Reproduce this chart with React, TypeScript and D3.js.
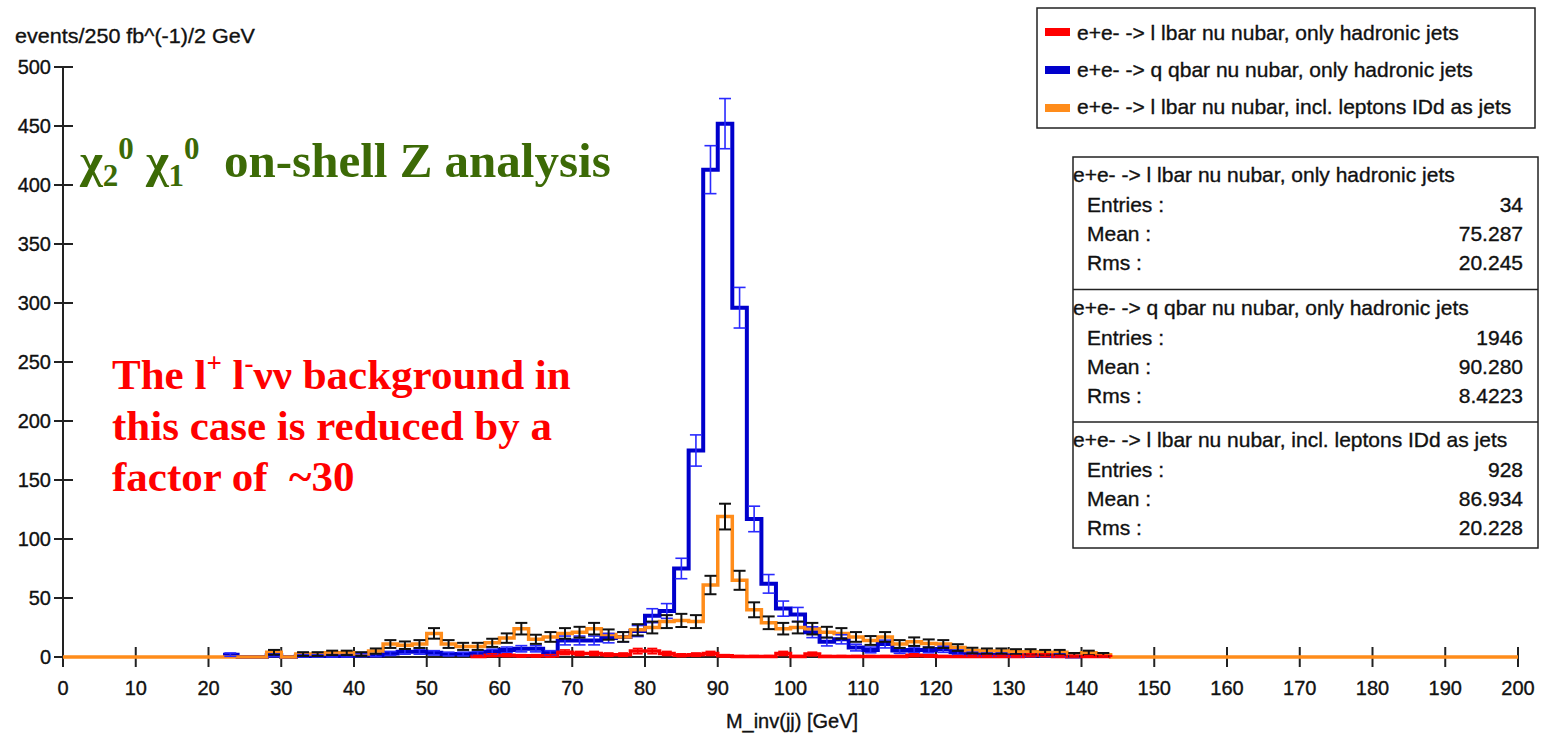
import * as d3 from "d3";
import React from "react";

// bin width 2 GeV, counts indexed from the given start edge
const BIN = 2;

const orangeStart = 28;
const orangeCounts = [
  4, 0, 2.5, 2.5, 3.5, 3.5, 2.5, 5, 11, 10, 11, 20, 11, 9, 9, 12, 16, 24, 15, 17,
  20, 21, 24, 19, 17, 23, 25, 30, 31, 30, 61, 119, 65, 40, 29, 24, 25, 24, 21, 20,
  17, 14, 17, 11, 13, 11.5, 11, 8, 5.5, 5, 5, 4.5, 4.5, 4, 4, 2, 3.5, 2,
];

const blueStart = 22;
const blueCounts = [
  2, 0, 0, 1.5, 0, 1, 1, 1, 1, 1.5, 1.5, 3, 4.5, 4.5, 3.5, 2.5, 2.5, 3, 4.5, 6,
  7, 7, 3.5, 14, 14, 14, 16, 17, 22, 35, 39, 75, 175, 413, 452, 296, 117, 62, 41, 36,
  21, 13, 15, 8, 6, 11, 5.5, 6, 6, 6.5, 4, 2.5, 2, 2, 1.5, 1.5, 1.5, 1.5, 0.5,
];

const redStart = 56;
const redCounts = [
  0.5, 1.5, 1.5, 1, 1, 1, 4, 3, 3, 2, 2, 5, 5, 3, 1.5, 2, 3, 1, 0.5, 0.5,
  0.5, 3, 0.5, 2.5, 0.5, 0.5, 0.5, 0.5, 0.5, 0.5, 1.5, 1, 0.5, 0.5, 0.5, 0.5, 0.5, 0.5, 1.5, 1.5,
  0.5, 0.5, 0.5, 0.5,
];

const xTicks = d3.range(0, 201, 10);
const yTicks = d3.range(0, 501, 50);

const legendLabels = [
  "e+e- -> l lbar nu nubar, only hadronic jets",
  "e+e- -> q qbar nu nubar, only hadronic jets",
  "e+e- -> l lbar nu nubar, incl. leptons IDd as jets",
];
const legendColors = ["#ff0000", "#0000cc", "#ff8c1a"];

const statNames = ["Entries :", "Mean :", "Rms :"];
const statValues = [
  ["34", "75.287", "20.245"],
  ["1946", "90.280", "8.4223"],
  ["928", "86.934", "20.228"],
];

const SANS = "'Liberation Sans', Arial, sans-serif";
const SERIF = "'Liberation Serif', 'Times New Roman', serif";

const x = d3.scaleLinear().domain([0, 200]).range([63, 1518]);
const y = d3.scaleLinear().domain([0, 500]).range([657, 67]);

type Pt = { e: number; v: number };

const stepLine = d3
  .line<Pt>()
  .x((d) => x(d.e))
  .y((d) => y(d.v))
  .curve(d3.curveStepAfter);

function histPoints(start: number, counts: number[], from: number, to: number): Pt[] {
  const pts: Pt[] = [];
  if (from < start) pts.push({ e: from, v: 0 });
  counts.forEach((c, i) => pts.push({ e: start + i * BIN, v: c }));
  const end = start + counts.length * BIN;
  pts.push({ e: end, v: 0 });
  if (to > end) pts.push({ e: to, v: 0 });
  return pts;
}

function ErrorBars({ start, counts, color, width, cap }: { start: number; counts: number[]; color: string; width: number; cap: number }) {
  return (
    <g stroke={color} strokeWidth={width} fill="none">
      {counts.map((c, i) => {
        if (c <= 0) return null;
        const err = Math.sqrt(c);
        const cx = x(start + i * BIN + BIN / 2);
        const y1 = y(c + err);
        const y2 = y(Math.max(0, c - err));
        return (
          <g key={i}>
            <line x1={cx} x2={cx} y1={y1} y2={y2} />
            <line x1={cx - cap / 2} x2={cx + cap / 2} y1={y1} y2={y1} />
            <line x1={cx - cap / 2} x2={cx + cap / 2} y1={y2} y2={y2} />
          </g>
        );
      })}
    </g>
  );
}

// slightly heavier sans text, like the bitmap font of the original plot
const heavy = { stroke: "#111", strokeWidth: 0.35 };

export default function App() {
  const bluePath = stepLine(histPoints(blueStart, blueCounts, blueStart, blueStart))!;
  const orangePath = stepLine(histPoints(orangeStart, orangeCounts, 0, 200))!;
  const redPath = stepLine(histPoints(redStart, redCounts, redStart, redStart))!;

  const statTop = 157;
  const sectionH = 131;

  return (
    <svg
      width={1541}
      height={736}
      style={{ position: "absolute", left: 0, top: 0, background: "#fff" }}
      fontFamily={SANS}
    >
      <rect width={1541} height={736} fill="#fff" />

      {/* y axis title */}
      <text x={15} y={43} fontSize={21} fill="#111" {...heavy} textLength={240} lengthAdjust="spacingAndGlyphs">
        events/250 fb^(-1)/2 GeV
      </text>

      {/* axes */}
      <g stroke="#222" strokeWidth={2}>
        <line x1={x(0)} x2={x(0)} y1={y(500)} y2={y(0)} />
        <line x1={x(0)} x2={x(200)} y1={y(0)} y2={y(0)} />
        {yTicks.map((t) => (
          <line key={t} x1={x(0) - 9} x2={x(0) + 10} y1={y(t)} y2={y(t)} />
        ))}
        {xTicks.map((t) => (
          <line key={t} x1={x(t)} x2={x(t)} y1={y(0) - 10} y2={y(0) + 10} />
        ))}
      </g>
      <g fontSize={20} fill="#111" {...heavy}>
        {yTicks.map((t) => (
          <text key={t} x={51} y={y(t)} textAnchor="end" dominantBaseline="central">
            {t}
          </text>
        ))}
        {xTicks.map((t) => (
          <text key={t} x={x(t)} y={695} textAnchor="middle">
            {t}
          </text>
        ))}
      </g>
      <text x={792} y={728} fontSize={20} textAnchor="middle" fill="#111" {...heavy}>
        M_inv(jj) [GeV]
      </text>

      {/* histograms */}
      <path d={bluePath} fill="none" stroke="#0000cc" strokeWidth={4} />
      <path d={orangePath} fill="none" stroke="#ff8c1a" strokeWidth={3.5} />
      <path d={redPath} fill="none" stroke="#ff0000" strokeWidth={3.5} />
      <ErrorBars start={blueStart} counts={blueCounts} color="#2a2aff" width={1.6} cap={12} />
      <ErrorBars start={orangeStart} counts={orangeCounts} color="#111" width={2} cap={12} />
      <ErrorBars start={redStart} counts={redCounts} color="#ff0000" width={1.6} cap={10} />

      {/* legend */}
      <rect x={1037} y={8} width={498} height={120} fill="#fff" stroke="#222" strokeWidth={1.5} />
      {legendLabels.map((l, i) => (
        <g key={l}>
          <rect x={1045} y={28 + i * 38} width={25} height={8} fill={legendColors[i]} />
          <text x={1077} y={40 + i * 37} fontSize={21} fill="#111" {...heavy}>
            {l}
          </text>
        </g>
      ))}

      {/* stats box */}
      <rect x={1073} y={statTop} width={465} height={sectionH * 3 - 2} fill="#fff" stroke="#222" strokeWidth={1.5} />
      {legendLabels.map((l, i) => {
        const top = statTop + i * (sectionH + 1.5);
        return (
          <g key={l} fontSize={21} fill="#111" {...heavy}>
            {i > 0 && <line x1={1073} x2={1538} y1={top} y2={top} stroke="#222" strokeWidth={1.5} />}
            <text x={1073} y={top + 25}>{l}</text>
            {statNames.map((n, j) => (
              <g key={n}>
                <text x={1087} y={top + 55 + j * 29}>{n}</text>
                <text x={1523} y={top + 55 + j * 29} textAnchor="end">
                  {statValues[i][j]}
                </text>
              </g>
            ))}
          </g>
        );
      })}

      {/* annotations */}
      <text x={80} y={177} fontFamily={SERIF} fontWeight="bold" fontSize={49} fill="#3c6a06">
        χ<tspan fontSize={31} dy={9}>2</tspan>
        <tspan fontSize={31} dy={-27}>0</tspan>
        <tspan dy={18}> χ</tspan>
        <tspan fontSize={31} dy={9}>1</tspan>
        <tspan fontSize={31} dy={-27}>0</tspan>
        <tspan dy={18}>{"\u00a0 on-shell Z analysis"}</tspan>
      </text>
      <g fontFamily={SERIF} fontWeight="bold" fontSize={43} fill="#ff0000">
        <text x={112} y={389}>
          The l<tspan fontSize={27} dy={-17}>+</tspan>
          <tspan dy={17}> l</tspan>
          <tspan fontSize={27} dy={-17}>-</tspan>
          <tspan dy={17}>νν background in</tspan>
        </text>
        <text x={112} y={440}>this case is reduced by a</text>
        <text x={112} y={491}>{"factor of \u00a0~30"}</text>
      </g>
    </svg>
  );
}
